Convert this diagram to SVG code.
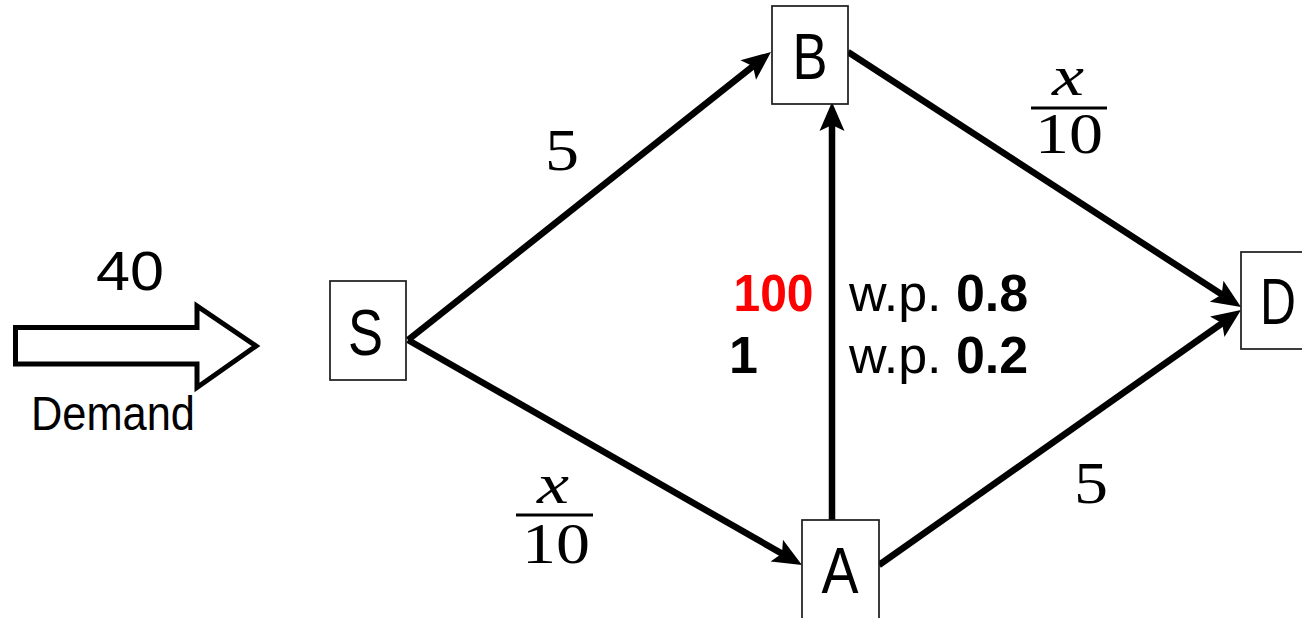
<svg xmlns="http://www.w3.org/2000/svg" width="1302" height="618" viewBox="0 0 1302 618">
  <style>
    .box { fill: #fff; stroke: #1a1a1a; stroke-width: 1.7; }
    .lbl { font-family: "Liberation Sans", Arial, sans-serif; font-size: 64px; fill: #000; text-anchor: middle; }
    .edge { stroke: #000; stroke-width: 6.5; fill: none; marker-end: url(#ah); }
    .math { font-family: "Liberation Serif", "DejaVu Serif", serif; fill: #000; text-anchor: middle; }
    .sans { font-family: "Liberation Sans", Arial, sans-serif; fill: #000; }
  </style>
  <defs>
    <marker id="ah" markerUnits="userSpaceOnUse" markerWidth="50" markerHeight="50" viewBox="-15 -25 50 50" refX="0" refY="0" orient="auto">
      <path d="M20,0 L-9,-12.5 L-3,0 L-9,12.5 Z" fill="#000"/>
    </marker>
  </defs>
  <rect width="1302" height="618" fill="#fff"/>

  <g id="connectors">
    <line class="edge" x1="408" y1="340" x2="755.3" y2="64.4"/>
    <line class="edge" x1="408" y1="340" x2="784.6" y2="555.1"/>
    <line class="edge" x1="848" y1="52" x2="1224.2" y2="296.1"/>
    <line class="edge" x1="879" y1="565" x2="1224.6" y2="321.5"/>
    <line class="edge" x1="832" y1="520" x2="832" y2="122"/>
  </g>

  <g id="demand">
    <polygon points="15.5,327.5 197,327.5 197,306 256,346 197,387.5 197,364 15.5,364" fill="#fff" stroke="#000" stroke-width="5" stroke-linejoin="miter"/>
    <text class="sans" x="130" y="290" font-size="55" text-anchor="middle" textLength="68" lengthAdjust="spacingAndGlyphs">40</text>
    <text class="sans" x="113" y="430" font-size="48" text-anchor="middle" textLength="164" lengthAdjust="spacingAndGlyphs">Demand</text>
  </g>

  <g id="node-S">
    <rect class="box" x="330" y="281" width="76" height="99"/>
    <text class="lbl" x="365.5" y="355" textLength="35" lengthAdjust="spacingAndGlyphs">S</text>
  </g>
  <g id="node-B">
    <rect class="box" x="772" y="6" width="76" height="98"/>
    <text class="lbl" x="810" y="79" textLength="35" lengthAdjust="spacingAndGlyphs">B</text>
  </g>
  <g id="node-A">
    <rect class="box" x="802" y="520" width="77" height="110"/>
    <text class="lbl" x="840" y="593" textLength="37" lengthAdjust="spacingAndGlyphs">A</text>
  </g>
  <g id="node-D">
    <rect class="box" x="1241" y="252" width="70" height="97"/>
    <text class="lbl" x="1278" y="324" textLength="36" lengthAdjust="spacingAndGlyphs">D</text>
  </g>

  <g id="edge-labels">
    <text class="math" x="562" y="170" font-size="60" textLength="34" lengthAdjust="spacingAndGlyphs">5</text>
    <text class="math" x="1091" y="503" font-size="60" textLength="34" lengthAdjust="spacingAndGlyphs">5</text>

    <text class="math" x="1068" y="95" font-size="56" font-style="italic" textLength="32" lengthAdjust="spacingAndGlyphs">x</text>
    <rect x="1031" y="106.5" width="76" height="3" fill="#000"/>
    <text class="math" x="1069" y="153" font-size="56" textLength="68" lengthAdjust="spacingAndGlyphs">10</text>

    <text class="math" x="553" y="503" font-size="56" font-style="italic" textLength="32" lengthAdjust="spacingAndGlyphs">x</text>
    <rect x="516" y="513.5" width="77" height="3" fill="#000"/>
    <text class="math" x="556" y="563" font-size="56" textLength="68" lengthAdjust="spacingAndGlyphs">10</text>

    <text class="sans" x="773.5" y="311" font-size="52" font-weight="bold" text-anchor="middle" textLength="80" lengthAdjust="spacingAndGlyphs" style="fill:#ff0000">100</text>
    <text class="sans" x="743.5" y="373" font-size="52" font-weight="bold" text-anchor="middle">1</text>
    <text class="sans" x="849" y="311" font-size="52">w.p. <tspan font-weight="bold">0.8</tspan></text>
    <text class="sans" x="849" y="373" font-size="52">w.p. <tspan font-weight="bold">0.2</tspan></text>
  </g>
</svg>
